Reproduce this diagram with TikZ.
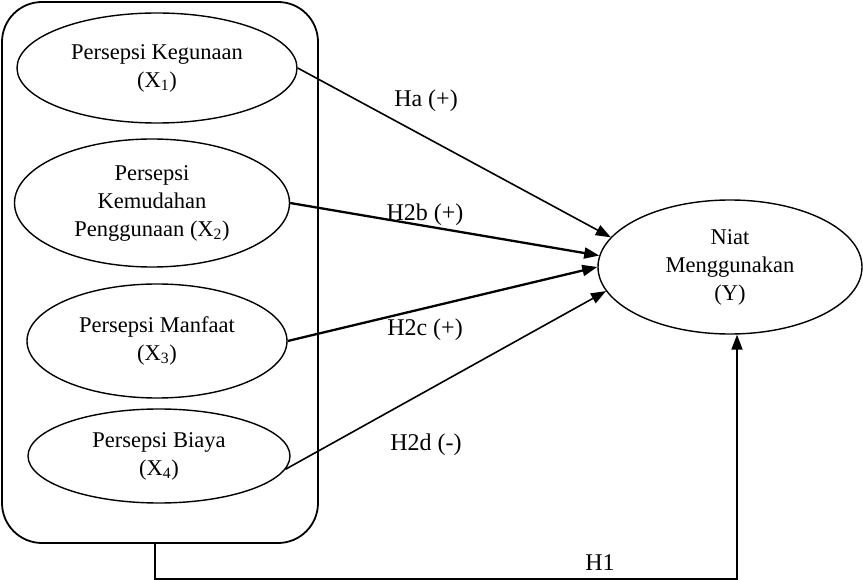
\documentclass[tikz,border=0pt]{standalone}
\usepackage{fontspec}
\setmainfont{Liberation Serif}
\usetikzlibrary{arrows.meta,shapes.geometric}
\begin{document}
\begin{tikzpicture}[x=1pt,y=-1pt,
  var/.style={ellipse,draw,line width=1.4pt,inner sep=0pt,align=center,font=\fontsize{22.5}{28}\selectfont},
  hlab/.style={font=\fontsize{24}{28}\selectfont},
  arr/.style={-{Triangle[length=15pt,width=11pt]},line width=1.6pt},
  arrb/.style={arr,line width=2.3pt},
]
\useasboundingbox (0,0) rectangle (863,580);
\node[draw,rounded corners=40pt,line width=1.8pt,minimum width=316pt,minimum height=541pt] (box) at (160,272.5) {};
\node[var,minimum width=280pt,minimum height=110pt] (e1) at (157,68) {Persepsi Kegunaan\\(X\textsubscript{1})};
\node[var,minimum width=275pt,minimum height=128pt] (e2) at (152,203) {Persepsi\\Kemudahan\\Penggunaan (X\textsubscript{2})};
\node[var,minimum width=260pt,minimum height=114pt] (e3) at (157,341) {Persepsi Manfaat\\(X\textsubscript{3})};
\node[var,minimum width=262pt,minimum height=94pt] (e4) at (159,456) {Persepsi Biaya\\(X\textsubscript{4})};
\node[var,minimum width=264pt,minimum height=134pt] (y) at (730,267) {Niat\\Menggunakan\\(Y)};

\draw[arr] (e1.east) -- (y.166);
\draw[arrb] (e2.east) -- (y.175);
\draw[arrb] (e3.east) -- (y.180);
\draw[arr] (e4.-6) -- (y.191);
\draw[arr,line width=1.8pt] ([xshift=-5pt]box.south) -- ++(0,35) -| ([xshift=7pt]y.south);

\node[hlab] (la) at (426,101) {Ha (+)};
\node[hlab] (lb) at (425,215) {H2b (+)};
\node[hlab] (lc) at (425,330) {H2c (+)};
\node[hlab] (ld) at (426,445) {H2d (-)};
\node[hlab] (l1) at (600,563) {H1};
\end{tikzpicture}
\end{document}
